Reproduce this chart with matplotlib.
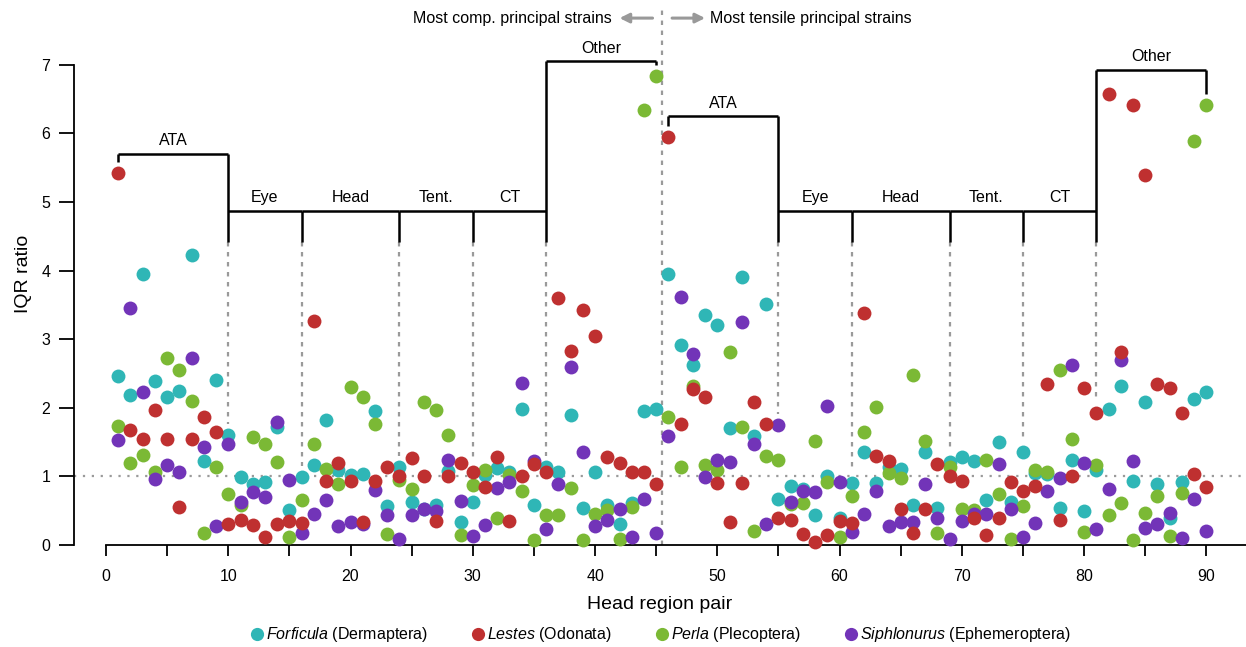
import numpy as np
import matplotlib.pyplot as plt
from matplotlib.lines import Line2D

# === Data: IQR ratio for each head region pair (1..90) ===
pairs = np.arange(1, 91)

forficula = [2.47, 2.18, 3.95, 2.39, 2.16, 2.25, 4.23, 1.23, 2.41, 1.60,
             0.99, 0.89, 0.92, 1.72, 0.51, 0.99, 1.16, 1.82, 1.10, 1.02,
             1.04, 1.96, 0.57, 1.13, 0.62, 0.52, 0.58, 1.08, 0.33, 0.62,
             1.02, 1.12, 1.07, 1.98, 0.58, 1.14, 1.07, 1.89, 0.54, 1.07,
             0.58, 0.30, 0.61, 1.96, 1.98, 3.95, 2.92, 2.62, 3.35, 3.20,
             1.70, 3.91, 1.59, 3.51, 0.67, 0.86, 0.82, 0.44, 1.00, 0.40,
             0.90, 1.36, 0.91, 1.13, 1.11, 0.58, 1.36, 0.54, 1.21, 1.28,
             1.22, 0.65, 1.50, 0.62, 1.36, 1.05, 1.03, 0.54, 1.24, 0.50,
             1.10, 1.98, 2.32, 0.94, 2.09, 0.89, 0.40, 0.92, 2.13, 2.23]

lestes = [5.42, 1.67, 1.55, 1.97, 1.55, 0.56, 1.55, 1.86, 1.65, 0.30,
          0.37, 0.29, 0.11, 0.30, 0.35, 0.32, 3.27, 0.94, 1.19, 0.94,
          0.33, 0.94, 1.13, 1.00, 1.27, 1.01, 0.35, 1.00, 1.20, 1.07,
          0.85, 1.28, 0.35, 1.01, 1.18, 1.07, 3.60, 2.83, 3.42, 3.04,
          1.28, 1.20, 1.07, 1.07, 0.89, 5.94, 1.77, 2.27, 2.15, 0.91,
          0.34, 0.91, 2.09, 1.76, 0.39, 0.37, 0.16, 0.05, 0.14, 0.35,
          0.32, 3.38, 1.29, 1.22, 0.52, 0.18, 0.52, 1.18, 1.00, 0.94,
          0.40, 0.15, 0.40, 0.92, 0.78, 0.86, 2.35, 0.36, 1.00, 2.29,
          1.93, 6.58, 2.81, 6.41, 5.39, 2.35, 2.29, 1.93, 1.04, 0.85]

perla = [1.73, 1.19, 1.31, 1.06, 2.73, 2.55, 2.10, 0.18, 1.14, 0.75,
         0.59, 1.58, 1.47, 1.21, 0.12, 0.66, 1.47, 1.11, 0.89, 2.30,
         2.15, 1.77, 0.16, 0.95, 0.81, 2.09, 1.97, 1.61, 0.15, 0.87,
         1.10, 0.39, 1.02, 0.78, 0.07, 0.43, 0.43, 0.83, 0.07, 0.45,
         0.51, 0.09, 0.56, 6.34, 6.83, 1.86, 1.14, 2.32, 1.17, 1.10,
         2.81, 1.72, 0.21, 1.30, 1.24, 0.60, 0.61, 1.52, 0.92, 0.12,
         0.71, 1.64, 2.01, 1.05, 0.97, 2.48, 1.51, 0.18, 1.14, 0.52,
         0.51, 1.24, 0.75, 0.09, 0.57, 1.10, 1.07, 2.55, 1.55, 0.19,
         1.16, 0.44, 0.61, 0.08, 0.47, 0.72, 0.13, 0.76, 5.89, 6.42]

siphlonurus = [1.53, 3.46, 2.23, 0.96, 1.17, 1.07, 2.73, 1.43, 0.27, 1.47,
               0.62, 0.77, 0.70, 1.80, 0.95, 0.18, 0.45, 0.65, 0.28, 0.34,
               0.31, 0.80, 0.43, 0.09, 0.44, 0.53, 0.50, 1.24, 0.64, 0.13,
               0.29, 0.83, 0.92, 2.36, 1.23, 0.23, 0.89, 2.59, 1.36, 0.27,
               0.36, 0.53, 0.11, 0.67, 0.18, 1.59, 3.62, 2.78, 0.99, 1.24,
               1.21, 3.25, 1.47, 0.30, 1.75, 0.62, 0.79, 0.77, 2.03, 0.92,
               0.19, 0.45, 0.78, 0.28, 0.33, 0.33, 0.89, 0.40, 0.09, 0.35,
               0.45, 0.45, 1.18, 0.53, 0.12, 0.32, 0.79, 0.98, 2.62, 1.19,
               0.23, 0.81, 2.69, 1.22, 0.25, 0.31, 0.46, 0.10, 0.67, 0.20]

# head region groups: (label, first pair, last pair, bracket height)
groups = [("ATA", 1, 10, 5.70), ("Eye", 10, 16, 4.87), ("Head", 16, 24, 4.87),
          ("Tent.", 24, 30, 4.87), ("CT", 30, 36, 4.87), ("Other", 36, 45, 7.05),
          ("ATA", 46, 55, 6.25), ("Eye", 55, 61, 4.87), ("Head", 61, 69, 4.87),
          ("Tent.", 69, 75, 4.87), ("CT", 75, 81, 4.87), ("Other", 81, 90, 6.93)]

colors = {"Forficula": "#2fb6b6", "Lestes": "#bf3030",
          "Perla": "#7bb935", "Siphlonurus": "#7234b8"}
orders = {"Forficula": "Dermaptera", "Lestes": "Odonata",
          "Perla": "Plecoptera", "Siphlonurus": "Ephemeroptera"}

plt.rcParams['font.family'] = ['Liberation Sans', 'DejaVu Sans']
plt.rcParams['mathtext.fontset'] = 'custom'
plt.rcParams['mathtext.it'] = 'Liberation Sans:italic'
plt.rcParams['mathtext.rm'] = 'Liberation Sans'

# === Figure ===
fig = plt.figure(figsize=(12.46, 6.47), dpi=100)
ax = fig.add_axes([74 / 1246, 102 / 647, 1172 / 1246, 542 / 647])
ax.set_xlim(-2.62, 93.24)
ax.set_ylim(0, 7.9)

# reference line at ratio 1
ax.axhline(1, color='#9a9a9a', lw=1.6, ls=(0, (1, 3)), zorder=1)

# === Points (drawing order as in the original) ===
series = {"Forficula": forficula, "Lestes": lestes,
          "Perla": perla, "Siphlonurus": siphlonurus}
for name in ["Forficula", "Perla", "Siphlonurus", "Lestes"]:
    ax.scatter(pairs, series[name], s=100, color=colors[name], lw=0,
               zorder=3, clip_on=False)

# === Group brackets ===
allvals = np.array([forficula, lestes, perla, siphlonurus])
colmax = dict(zip(pairs, allvals.max(axis=0)))
base = 4.42
gap = 0.16
line_kw = dict(color='black', lw=1.8, solid_capstyle='butt', zorder=2)

tops = {}
for label, a, b, h in groups:
    ax.plot([a, b], [h, h], **line_kw)
    ax.text((a + b) / 2, h + 0.08, label, ha='center', va='bottom', fontsize=11.5)
    for xb in (a, b):
        tops[xb] = max(tops.get(xb, 0), h)

for xb, top in tops.items():
    end = colmax[xb] + gap
    ax.plot([xb, xb], [top, max(base, end)], **line_kw)
    if end < base:
        ax.plot([xb, xb], [base, end], color='#9a9a9a', lw=1.6,
                ls=(0, (2, 2.5)), zorder=1)

# comp / tensile divider
ax.plot([45.5, 45.5], [0, 7.85], color='#9a9a9a', lw=1.6,
        ls=(0, (2, 2.5)), zorder=1, clip_on=False)
ax.annotate('', xy=(42.0, 7.68), xytext=(44.7, 7.68),
            arrowprops=dict(arrowstyle='-|>', color='#999999', lw=2.2,
                            mutation_scale=14, shrinkA=0, shrinkB=0))
ax.annotate('', xy=(49.0, 7.68), xytext=(46.3, 7.68),
            arrowprops=dict(arrowstyle='-|>', color='#999999', lw=2.2,
                            mutation_scale=14, shrinkA=0, shrinkB=0))
ax.text(41.4, 7.68, 'Most comp. principal strains', ha='right', va='center', fontsize=11.5)
ax.text(49.4, 7.68, 'Most tensile principal strains', ha='left', va='center', fontsize=11.5)

# === Axes styling ===
ax.spines['top'].set_visible(False)
ax.spines['right'].set_visible(False)
ax.spines['left'].set_bounds(0, 7)
ax.spines['bottom'].set_bounds(0, 93.24)
ax.spines['left'].set_linewidth(1.3)
ax.spines['bottom'].set_linewidth(1.3)

ax.set_yticks(range(0, 8))
ax.set_xticks(range(0, 91, 10))
ax.set_xticks(range(5, 91, 10), minor=True)
ax.tick_params(axis='y', length=11, width=1.3, labelsize=11.5, pad=6)
ax.tick_params(axis='x', which='both', length=8, width=1.3, labelsize=11.5, pad=9)

ax.set_ylabel('IQR ratio', fontsize=14, labelpad=7)
ax.set_xlabel('Head region pair', fontsize=14, labelpad=9)

# === Legend ===
handles = [Line2D([], [], ls='none', marker='o', ms=9.5, mew=0, color=colors[n])
           for n in series]
labels = [r'$\mathit{%s}$ (%s)' % (n, orders[n]) for n in series]
fig.legend(handles, labels, loc='center', bbox_to_anchor=(660 / 1246, 12 / 647),
           ncol=4, frameon=False, fontsize=11.5, handletextpad=0.1,
           columnspacing=2.6, handlelength=1.0)

plt.savefig('out.png', dpi=100)
